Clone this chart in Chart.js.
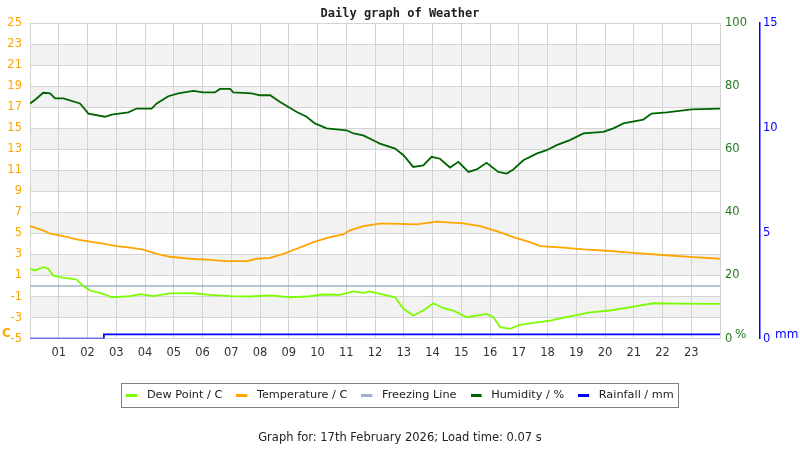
<!DOCTYPE html>
<html>
<head>
<meta charset="utf-8">
<title>Daily graph of Weather</title>
<script src="https://cdn.jsdelivr.net/npm/chart.js@4"></script>
<style>
  html, body { margin: 0; padding: 0; background: #fff; }
  canvas { display: block; }
</style>
</head>
<body>
<canvas id="weatherChart" width="800" height="450"></canvas>
<script>
// values (hours since midnight)
const dewHours = [0, 0.17, 0.46, 0.64, 0.81, 1.04, 1.28, 1.62, 1.86, 2.09, 2.55, 2.84, 3.48, 3.83, 4.29, 4.87, 5.68, 6.26, 6.96, 7.65, 8.35, 9.04, 9.62, 10.2, 10.78, 11.25, 11.59, 11.83, 12.17, 12.7, 12.99, 13.33, 13.68, 14.03, 14.38, 14.72, 15.19, 15.54, 15.88, 16.12, 16.35, 16.7, 17.04, 17.51, 18.09, 18.78, 19.48, 20.17, 20.99, 21.68, 22.49, 24];
const dewPoint = [1.64, 1.48, 1.79, 1.64, 1.0, 0.84, 0.75, 0.62, -0.02, -0.43, -0.74, -1.07, -0.97, -0.78, -0.97, -0.71, -0.69, -0.84, -0.97, -1.0, -0.9, -1.07, -1.0, -0.81, -0.84, -0.52, -0.65, -0.52, -0.74, -1.07, -2.17, -2.81, -2.33, -1.64, -2.11, -2.33, -2.97, -2.81, -2.65, -2.97, -3.92, -4.08, -3.69, -3.5, -3.29, -2.88, -2.5, -2.33, -1.95, -1.64, -1.67, -1.7];

const tempHours = [0, 0.46, 0.7, 1.16, 1.62, 2.03, 2.55, 3.01, 3.48, 3.94, 4.41, 4.87, 5.57, 6.26, 6.84, 7.54, 7.88, 8.35, 8.81, 9.28, 9.86, 10.43, 10.9, 11.13, 11.59, 12.17, 12.52, 13.45, 14.15, 15.07, 15.65, 16.23, 16.81, 17.39, 17.74, 18.55, 19.25, 20.06, 21.1, 22.26, 23.07, 24];
const temperature = [5.7, 5.29, 4.97, 4.75, 4.43, 4.24, 4.02, 3.79, 3.64, 3.45, 3.06, 2.78, 2.59, 2.49, 2.36, 2.36, 2.59, 2.68, 3.06, 3.54, 4.17, 4.65, 4.9, 5.29, 5.7, 5.92, 5.92, 5.86, 6.11, 5.95, 5.7, 5.22, 4.65, 4.17, 3.79, 3.64, 3.48, 3.35, 3.13, 2.9, 2.74, 2.59];

const freezeHours = [0, 24];
const freezing = [0, 0];

const humHours = [0, 0.17, 0.46, 0.7, 0.87, 1.16, 1.74, 2.03, 2.61, 2.84, 3.42, 3.71, 4.23, 4.41, 4.81, 5.16, 5.68, 6.03, 6.43, 6.61, 6.96, 7.07, 7.71, 8.0, 8.35, 8.7, 8.99, 9.28, 9.62, 9.91, 10.32, 11.01, 11.25, 11.59, 12.06, 12.17, 12.7, 12.99, 13.33, 13.68, 13.97, 14.26, 14.61, 14.9, 15.25, 15.54, 15.88, 16.29, 16.58, 16.81, 17.16, 17.62, 17.97, 18.32, 18.78, 19.25, 19.94, 20.29, 20.64, 21.33, 21.62, 22.15, 23.02, 24];
const humidity = [74.5, 75.6, 77.9, 77.7, 76.1, 76.1, 74.5, 71.3, 70.3, 71.0, 71.7, 72.9, 72.9, 74.5, 76.8, 77.7, 78.5, 78.0, 78.0, 79.1, 79.1, 78.0, 77.7, 77.1, 77.1, 75.0, 73.4, 71.8, 70.3, 68.2, 66.6, 66.0, 65.0, 64.4, 62.3, 61.8, 60.2, 58.1, 54.4, 54.9, 57.6, 57.0, 54.2, 56.0, 52.8, 53.6, 55.7, 52.8, 52.3, 53.6, 56.5, 58.6, 59.7, 61.3, 62.9, 65.0, 65.5, 66.6, 68.2, 69.4, 71.3, 71.7, 72.6, 72.9];

const rainHours = [0, 2.57, 2.57, 24];
const rainfall = [0, 0, 0.2, 0.2];

const seriesNames = ['Dew Point / C', 'Temperature / C', 'Freezing Line', 'Humidity / %', 'Rainfall / mm'];
const seriesColors = ['#7cfc00', '#ffa500', '#a0b0c8', '#006400', '#0000ff'];

function pts(xs, ys) {
    return xs.map((x, i) => ({ x: x, y: ys[i] }));
}

function lineSet(idx, data, axis, width) {
    return {
        label: seriesNames[idx],
        data: data,
        yAxisID: axis,
        borderColor: seriesColors[idx],
        backgroundColor: seriesColors[idx],
        borderWidth: width,
        pointRadius: 0,
        tension: 0,
        fill: false
    };
}

// little legend swatch: 11px of colour, then 4px of empty space before the text
function swatch(color) {
    const c = document.createElement('canvas');
    c.width = 15;
    c.height = 3;
    const g = c.getContext('2d');
    g.fillStyle = color;
    g.fillRect(0, 0, 11, 3);
    return c;
}

// grey bands between every other temperature gridline
const bandsPlugin = {
    id: 'bands',
    beforeDraw(chart) {
        const { ctx, chartArea } = chart;
        const y = chart.scales.y;
        ctx.save();
        ctx.fillStyle = '#f2f2f2';
        for (let v = -3; v < 25; v += 4) {
            const top = y.getPixelForValue(v + 2);
            const bot = y.getPixelForValue(v);
            ctx.fillRect(chartArea.left, top, chartArea.right - chartArea.left, bot - top);
        }
        ctx.restore();
    }
};

// unit labels and the box round the legend
const extrasPlugin = {
    id: 'extras',
    afterDraw(chart) {
        const ctx = chart.ctx;
        const bottom = chart.chartArea.bottom;
        ctx.save();
        ctx.textBaseline = 'middle';
        ctx.textAlign = 'left';
        ctx.font = "bold 12px 'DejaVu Sans', sans-serif";
        ctx.fillStyle = '#ffa500';
        ctx.fillText('C', 2, bottom - 5);
        ctx.font = "12px 'DejaVu Sans', sans-serif";
        ctx.fillStyle = '#237a23';
        ctx.fillText('%', 735, bottom - 4);
        ctx.fillStyle = '#0000ff';
        ctx.fillText('mm', 775, bottom - 4);

        const hb = chart.legend.legendHitBoxes;
        if (hb && hb.length) {
            const left = Math.min(...hb.map(h => h.left)) - 5;
            const right = Math.max(...hb.map(h => h.left + h.width)) + 4;
            const top = hb[0].top - 6.5;
            ctx.strokeStyle = '#808080';
            ctx.lineWidth = 1;
            ctx.strokeRect(Math.round(left) + 0.5, Math.round(top) + 0.5, Math.round(right - left), Math.round(hb[0].height + 13));
        }
        ctx.restore();
    }
};

Chart.defaults.font.family = "'DejaVu Sans', sans-serif";
Chart.defaults.font.size = 11;

const gridColor = '#d4d4d4';

new Chart(document.getElementById('weatherChart').getContext('2d'), {
    type: 'line',
    data: {
        datasets: [
            lineSet(0, pts(dewHours, dewPoint), 'y', 1.8),
            lineSet(1, pts(tempHours, temperature), 'y', 1.8),
            lineSet(2, pts(freezeHours, freezing), 'y', 1.5),
            lineSet(3, pts(humHours, humidity), 'yH', 1.8),
            lineSet(4, pts(rainHours, rainfall), 'yR', 1.8)
        ]
    },
    options: {
        responsive: false,
        animation: false,
        layout: { padding: 0 },
        plugins: {
            tooltip: { enabled: false },
            title: {
                display: true,
                text: 'Daily graph of Weather',
                color: '#222',
                font: { family: "'DejaVu Sans Mono', monospace", size: 12, weight: 'bold' },
                padding: { top: 7, bottom: 1.6 }
            },
            subtitle: {
                display: true,
                position: 'bottom',
                text: 'Graph for: 17th February 2026; Load time: 0.07 s',
                color: '#222',
                font: { size: 11.5 },
                padding: { top: 20, bottom: 5.3 }
            },
            legend: {
                position: 'bottom',
                labels: {
                    usePointStyle: true,
                    pointStyleWidth: 15,
                    boxHeight: 3,
                    padding: 14,
                    color: '#222',
                    font: { size: 11.3 },
                    generateLabels(chart) {
                        const items = Chart.defaults.plugins.legend.labels.generateLabels(chart);
                        items.forEach((it, i) => {
                            it.lineWidth = 0;
                            it.pointStyle = swatch(seriesColors[i]);
                        });
                        return items;
                    }
                }
            }
        },
        scales: {
            x: {
                type: 'linear',
                min: 0,
                max: 24,
                ticks: {
                    stepSize: 1,
                    padding: 8,
                    color: '#333',
                    font: { size: 11.5 },
                    callback: v => (v > 0 && v < 24) ? String(v).padStart(2, '0') : ''
                },
                grid: { color: gridColor, drawTicks: false },
                border: { color: gridColor },
                afterFit(axis) { axis.height = 37; }
            },
            y: {
                position: 'left',
                min: -5,
                max: 25,
                ticks: {
                    stepSize: 2,
                    padding: 8,
                    color: '#ffa500',
                    font: { size: 11.5 }
                },
                grid: { color: gridColor, drawTicks: false },
                border: { color: gridColor },
                afterFit(axis) { axis.width = 30; }
            },
            yH: {
                position: 'right',
                min: 0,
                max: 100,
                ticks: {
                    stepSize: 20,
                    padding: 5,
                    color: '#237a23',
                    font: { size: 11.5 }
                },
                grid: { display: false, drawTicks: false },
                border: { display: false },
                afterFit(axis) { axis.width = 40; }
            },
            yR: {
                position: 'right',
                min: 0,
                max: 15,
                ticks: {
                    stepSize: 5,
                    padding: 3,
                    color: '#0000ff',
                    font: { size: 11.5 }
                },
                grid: { display: false, drawTicks: false },
                border: { display: true, color: '#0000ff', width: 1.5 },
                afterFit(axis) { axis.width = 40; }
            }
        }
    },
    plugins: [bandsPlugin, extrasPlugin]
});
</script>
</body>
</html>
